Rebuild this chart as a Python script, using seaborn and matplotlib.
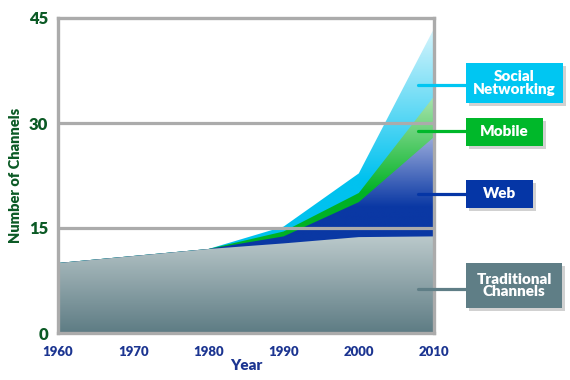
import numpy as np
import pandas as pd
import seaborn as sns
import matplotlib.pyplot as plt
from matplotlib.patches import Rectangle
from matplotlib.lines import Line2D

# data
years = [1960, 1970, 1980, 1990, 2000, 2010]
traditional = [10, 11, 12, 12.8, 13.7, 13.8]
web = [0, 0, 0, 1.0, 5.0, 14.2]
mobile = [0, 0, 0, 0.7, 1.3, 5.8]
social = [0, 0, 0, 0.7, 2.8, 9.7]
series_names = ["Traditional\nChannels", "Web", "Mobile", "Social\nNetworking"]
y_ticks = [0, 15, 30, 45]

sns.set_style("white")
plt.rcParams["font.family"] = ["Lato", "DejaVu Sans"]

W, H = 570, 380
fig = plt.figure(figsize=(W / 100, H / 100), dpi=100)
ax = fig.add_axes([58 / W, 47 / H, 376 / W, 315 / H])

df = pd.DataFrame(
    {"traditional": traditional, "web": web, "mobile": mobile, "social": social},
    index=years,
)
cum = df.cumsum(axis=1)

# colours: dark bottom, light top, gradient range (data y)
styles = {
    "traditional": ("#5e7c84", "#bccacc", 0, 14),
    "web": ("#0a38a4", "#c4cdeb", 18, 31),
    "mobile": ("#00b224", "#c4ecc4", 20, 36),
    "social": ("#00c2ef", "#e6f8fd", 22, 45),
}
box_colors = {
    "traditional": "#5f7e86",
    "web": "#0536a6",
    "mobile": "#00b82a",
    "social": "#00c6f2",
}

yy = np.linspace(0, 45, 500)[:, None] * np.ones((1, 50))

# draw top layer first, each from zero, so no seams between layers
for key in ["social", "mobile", "web", "traditional"]:
    dark, light, lo, hi = styles[key]
    poly = ax.fill_between(years, 0, cum[key].values, facecolor="none", edgecolor="none")
    cmap = sns.blend_palette([dark, light], as_cmap=True)
    t = np.clip((yy - lo) / (hi - lo), 0, 1)
    im = ax.imshow(t, extent=[1960, 2010, 0, 45], origin="lower", aspect="auto",
                   cmap=cmap, vmin=0, vmax=1, zorder=1)
    im.set_clip_path(poly.get_paths()[0], transform=ax.transData)

grid_color = "#ababab"
for y in [15, 30]:
    ax.axhline(y, color=grid_color, lw=2.3, zorder=3)

ax.set_xlim(1960, 2010)
ax.set_ylim(0, 45)
ax.set_xticks(years)
ax.set_yticks(y_ticks)
ax.set_xticklabels([str(y) for y in years], color="#1c3591", fontsize=9.5, fontweight=800)
ax.set_yticklabels([str(y) for y in y_ticks], color="#0b5a25", fontsize=12, fontweight=800)
ax.tick_params(axis="both", length=0)
ax.tick_params(axis="x", pad=9)
ax.tick_params(axis="y", pad=7)
for s in ax.spines.values():
    s.set_color(grid_color)
    s.set_linewidth(2.4)
    s.set_zorder(4)

ax.set_xlabel("Year", color="#1c3591", fontsize=11, fontweight=800, labelpad=1)
ax.set_ylabel("Number of Channels", color="#0b5a25", fontsize=10.5, fontweight=800, labelpad=5)

# label boxes on the right (pixel geometry: x0, y_top, width, height, connector y)
boxes = {
    "social": (466, 63, 97, 40, 85),
    "mobile": (466, 118, 77, 28, 131),
    "web": (466, 180, 67, 28, 194),
    "traditional": (466, 263, 96, 45, 289),
}
names = dict(zip(["traditional", "web", "mobile", "social"], series_names))

for key, (x0, ytop, bw, bh, ly) in boxes.items():
    c = box_colors[key]
    fig.add_artist(Line2D([418 / W, x0 / W], [1 - ly / H, 1 - ly / H],
                          color=c, lw=2.3, transform=fig.transFigure))
    fig.add_artist(Rectangle(((x0 + 3) / W, 1 - (ytop + bh + 3) / H), bw / W, bh / H,
                             transform=fig.transFigure, facecolor="#9a9a9a",
                             alpha=0.45, edgecolor="none"))
    fig.add_artist(Rectangle((x0 / W, 1 - (ytop + bh) / H), bw / W, bh / H,
                             transform=fig.transFigure, facecolor=c, edgecolor="none"))
    fig.text((x0 + bw / 2) / W, 1 - (ytop + bh / 2) / H, names[key], color="white",
             fontsize=11, fontweight=800, ha="center", va="center",
             linespacing=1.0)

fig.savefig("out.png", dpi=100)
